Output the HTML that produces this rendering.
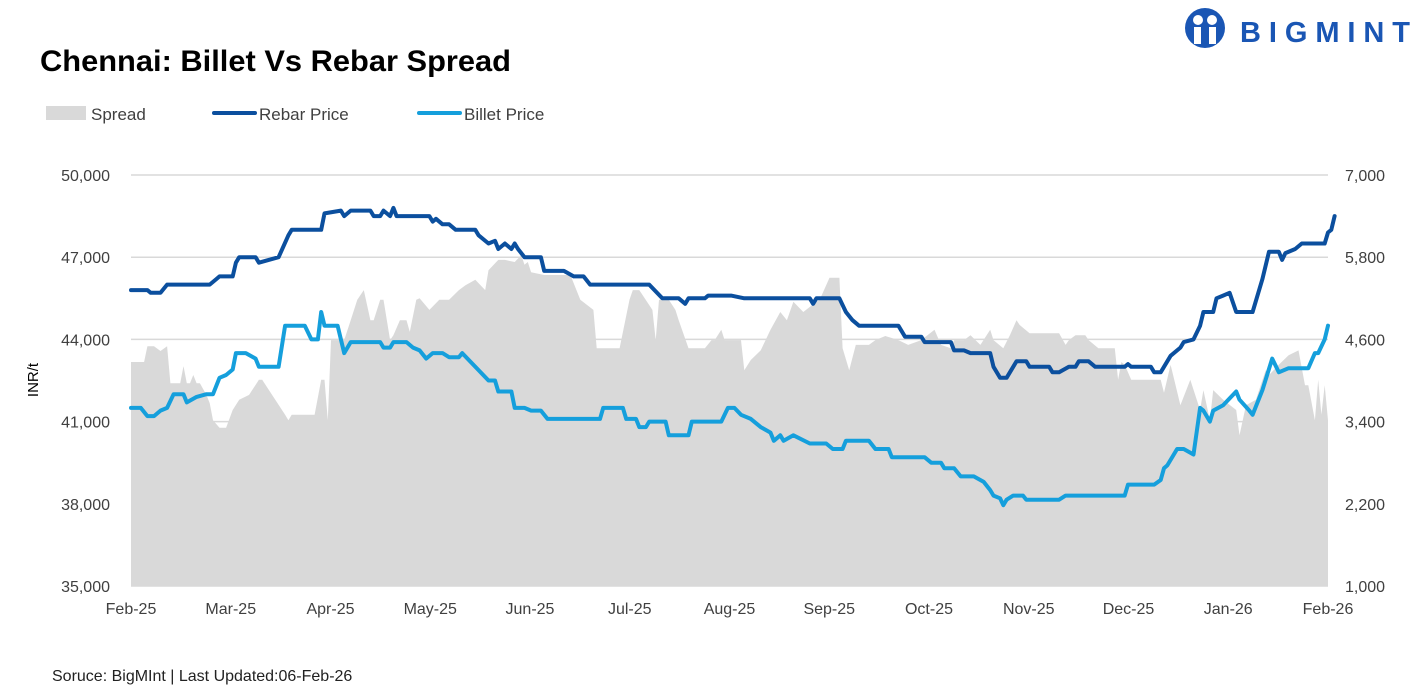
<!DOCTYPE html>
<html><head><meta charset="utf-8">
<style>
body{margin:0;background:#fff;width:1420px;height:692px;overflow:hidden;font-family:"Liberation Sans",Arial,sans-serif;}
svg{position:absolute;left:0;top:0}
</style></head>
<body>
<svg id="chart" width="1420" height="692" font-family="Liberation Sans, Arial, sans-serif">
<text x="40" y="71" font-size="30" font-weight="bold" fill="#000" textLength="471" lengthAdjust="spacingAndGlyphs">Chennai: Billet Vs Rebar Spread</text>
<g>
<circle cx="1205" cy="28" r="20" fill="#1a56b4"/>
<circle cx="1198" cy="20" r="5" fill="#fff"/><circle cx="1212" cy="20" r="5" fill="#fff"/>
<rect x="1194" y="27" width="7" height="17" fill="#fff"/><rect x="1209" y="27" width="7" height="17" fill="#fff"/>
<text x="1240" y="42" font-size="29" font-weight="bold" fill="#1a56b4" textLength="170" lengthAdjust="spacing">BIGMINT</text>
</g>
<g>
<g><rect x="46" y="106" width="40" height="14" fill="#d9d9d9"/><text x="91" y="120" font-size="17" fill="#404040">Spread</text></g>
<g><line x1="214" y1="113" x2="255" y2="113" stroke="#0b4f9e" stroke-width="4" stroke-linecap="round"/><text x="259" y="120" font-size="17" fill="#404040">Rebar Price</text></g>
<g><line x1="419" y1="113" x2="460" y2="113" stroke="#159fdc" stroke-width="4" stroke-linecap="round"/><text x="464" y="120" font-size="17" fill="#404040">Billet Price</text></g>
</g>
<g id="grid"></g><g id="area"></g><g id="lines"></g><g id="axes"></g>
<text transform="translate(38,380) rotate(-90)" text-anchor="middle" font-size="15" fill="#000">INR/t</text>
<text x="52" y="681" font-size="16" fill="#222">Soruce: BigMInt | Last Updated:06-Feb-26</text>
</svg>
<script>
const leftTicks=[50000,47000,44000,41000,38000,35000];
const rightTicks=[7000,5800,4600,3400,2200,1000];
const monthLabels=["Feb-25","Mar-25","Apr-25","May-25","Jun-25","Jul-25","Aug-25","Sep-25","Oct-25","Nov-25","Dec-25","Jan-26","Feb-26"];
const rebar=[[0,45800],[5,45800],[6,45700],[9,45700],[11,46000],[24,46000],[26,46200],[27,46300],[31,46300],[32,46800],[33,47000],[38,47000],[39,46800],[42,46900],[45,47000],[48,47800],[49,48000],[58,48000],[59,48600],[64,48700],[65,48500],[67,48700],[73,48700],[74,48500],[76,48500],[77,48700],[79,48500],[80,48800],[81,48500],[91,48500],[92,48300],[93,48400],[95,48200],[97,48200],[99,48000],[105,48000],[106,47800],[109,47500],[111,47600],[112,47300],[114,47500],[116,47300],[117,47500],[118,47300],[120,47000],[125,47000],[126,46500],[132,46500],[135,46300],[138,46300],[140,46000],[158,46000],[162,45500],[167,45500],[169,45300],[170,45500],[175,45500],[176,45600],[181,45600],[183,45600],[187,45500],[207,45500],[208,45300],[209,45500],[216,45500],[218,45000],[220,44700],[222,44500],[234,44500],[236,44100],[241,44100],[242,43900],[250,43900],[251,43600],[254,43600],[256,43500],[262,43500],[263,43000],[265,42600],[267,42600],[269,43000],[270,43200],[273,43200],[274,43000],[280,43000],[281,42800],[283,42800],[286,43000],[288,43000],[289,43200],[292,43200],[294,43000],[303,43000],[304,43100],[305,43000],[311,43000],[312,42800],[314,42800],[315,43000],[317,43400],[320,43700],[321,43900],[324,44000],[326,44500],[327,45000],[330,45000],[331,45500],[333,45600],[335,45700],[337,45000],[342,45000],[345,46200],[347,47200],[350,47200],[351,46900],[352,47150],[355,47300],[357,47500],[364,47500],[365,47900],[366,48000],[367,48500]];
const billet=[[0,41500],[3,41500],[5,41200],[7,41200],[9,41400],[11,41500],[13,42000],[16,42000],[17,41700],[20,41900],[23,42000],[25,42000],[27,42600],[29,42700],[31,42900],[32,43500],[35,43500],[38,43300],[39,43000],[45,43000],[47,44500],[53,44500],[55,44000],[57,44000],[58,45000],[59,44500],[63,44500],[64,44000],[65,43500],[67,43900],[76,43900],[77,43700],[79,43700],[80,43900],[84,43900],[86,43700],[88,43600],[90,43300],[92,43500],[95,43500],[97,43350],[100,43350],[101,43500],[103,43250],[105,43000],[109,42500],[111,42500],[112,42100],[116,42100],[117,41500],[120,41500],[122,41400],[125,41400],[127,41100],[143,41100],[144,41500],[150,41500],[151,41100],[154,41100],[155,40800],[157,40800],[158,41000],[163,41000],[164,40500],[170,40500],[171,41000],[180,41000],[182,41500],[184,41500],[186,41250],[189,41100],[192,40800],[195,40600],[196,40300],[198,40500],[199,40300],[202,40500],[207,40200],[212,40200],[214,40000],[217,40000],[218,40300],[225,40300],[227,40000],[231,40000],[232,39700],[242,39700],[244,39500],[247,39500],[248,39300],[251,39300],[253,39000],[257,39000],[260,38800],[262,38500],[263,38300],[265,38200],[266,37950],[267,38150],[269,38300],[272,38300],[273,38150],[283,38150],[285,38300],[303,38300],[304,38700],[312,38700],[314,38870],[315,39300],[316,39400],[319,40000],[321,40000],[324,39800],[326,41500],[327,41400],[329,41000],[330,41400],[333,41600],[337,42100],[338,41800],[341,41400],[342,41250],[345,42150],[348,43300],[350,42800],[353,42950],[359,42950],[361,43500],[362,43500],[364,44000],[365,44500]];
const spread=[[0,4270],[4,4270],[5,4500],[7,4500],[9,4430],[11,4500],[12,3960],[15,3960],[16,4210],[17,3960],[18,3960],[19,4080],[20,3960],[21,3960],[23,3790],[24,3670],[25,3420],[27,3310],[29,3310],[31,3570],[33,3720],[36,3790],[39,4010],[40,4010],[47,3500],[48,3420],[49,3500],[56,3500],[58,4010],[59,4010],[60,3420],[61,4590],[65,4590],[67,4880],[69,5180],[71,5320],[73,4880],[74,4880],[76,5180],[77,5180],[79,4590],[80,4660],[82,4880],[84,4880],[85,4710],[87,5180],[88,5200],[91,5030],[94,5180],[97,5180],[100,5320],[102,5390],[105,5470],[108,5320],[109,5610],[112,5760],[114,5760],[117,5730],[119,5830],[120,5690],[121,5730],[122,5580],[126,5540],[134,5540],[137,5180],[141,5030],[142,4470],[149,4470],[152,5180],[153,5320],[155,5320],[159,5030],[160,4590],[161,5180],[164,5180],[166,5030],[167,4880],[170,4470],[175,4470],[177,4590],[178,4590],[180,4740],[181,4590],[186,4590],[187,4150],[189,4300],[192,4440],[195,4740],[198,5000],[200,4880],[202,5150],[205,5000],[209,5150],[210,5180],[213,5500],[216,5500],[217,4470],[219,4150],[221,4520],[225,4520],[227,4590],[230,4650],[234,4590],[237,4520],[241,4590],[245,4740],[247,4520],[250,4470],[251,4590],[254,4590],[256,4660],[259,4520],[262,4740],[263,4590],[266,4470],[268,4660],[270,4880],[271,4810],[274,4690],[283,4690],[285,4520],[286,4590],[288,4660],[291,4660],[292,4590],[295,4470],[300,4470],[301,4010],[302,4270],[303,4230],[305,4010],[314,4010],[315,3820],[317,4230],[320,3640],[323,4010],[326,3570],[327,3860],[329,3420],[330,3860],[333,3720],[337,3570],[338,3200],[340,3640],[343,3720],[346,4150],[347,4080],[350,4230],[353,4370],[356,4440],[358,3930],[359,3930],[361,3420],[362,4010],[363,3500],[364,3930],[365,3420]];

const NS="http://www.w3.org/2000/svg";
const X0=131,X1=1328,Y0=175,Y1=586;
const xs=d=>X0+d/365*(X1-X0);
const yL=v=>Y0+(50000-v)/15000*(Y1-Y0);
const yR=v=>Y0+(7000-v)/6000*(Y1-Y0);
function mk(tag,attrs,parent){const e=document.createElementNS(NS,tag);for(const k in attrs)e.setAttribute(k,attrs[k]);parent.appendChild(e);return e;}
const grid=document.getElementById('grid'),axes=document.getElementById('axes');
leftTicks.forEach((t,i)=>{
  const g=mk('line',{x1:X0,x2:X1,y1:yL(t),y2:yL(t),stroke:'#d9d9d9','stroke-width':1.5},grid);
  
  
  const a=mk('text',{x:110,y:yL(t)+6,'text-anchor':'end','font-size':16,fill:'#404040'},axes);
  a.textContent=t.toLocaleString('en-US');
  
  
  const b=mk('text',{x:1345,y:yR(rightTicks[i])+6,'font-size':16,fill:'#404040'},axes);
  b.textContent=rightTicks[i].toLocaleString('en-US');
  
  
});
monthLabels.forEach((m,i)=>{
  const t=mk('text',{x:X0+i*(X1-X0)/12,y:614,'text-anchor':'middle','font-size':16,fill:'#404040'},axes);
  t.textContent=m;
  
  
});
let d='M'+xs(spread[0][0])+','+Y1+spread.map(p=>' L'+xs(p[0]).toFixed(1)+','+yR(p[1]).toFixed(1)).join('')+' L'+xs(spread[spread.length-1][0])+','+Y1+'Z';
const area=mk('path',{d:d,fill:'#d9d9d9'},document.getElementById('area'));


function line(data){return 'M'+data.map(p=>xs(p[0]).toFixed(1)+','+yL(p[1]).toFixed(1)).join(' L');}
const lr=mk('path',{d:line(rebar),fill:'none',stroke:'#0b4f9e','stroke-width':4,'stroke-linejoin':'round','stroke-linecap':'round'},document.getElementById('lines'));


const lb=mk('path',{d:line(billet),fill:'none',stroke:'#159fdc','stroke-width':4,'stroke-linejoin':'round','stroke-linecap':'round'},document.getElementById('lines'));


</script>
</body></html>
